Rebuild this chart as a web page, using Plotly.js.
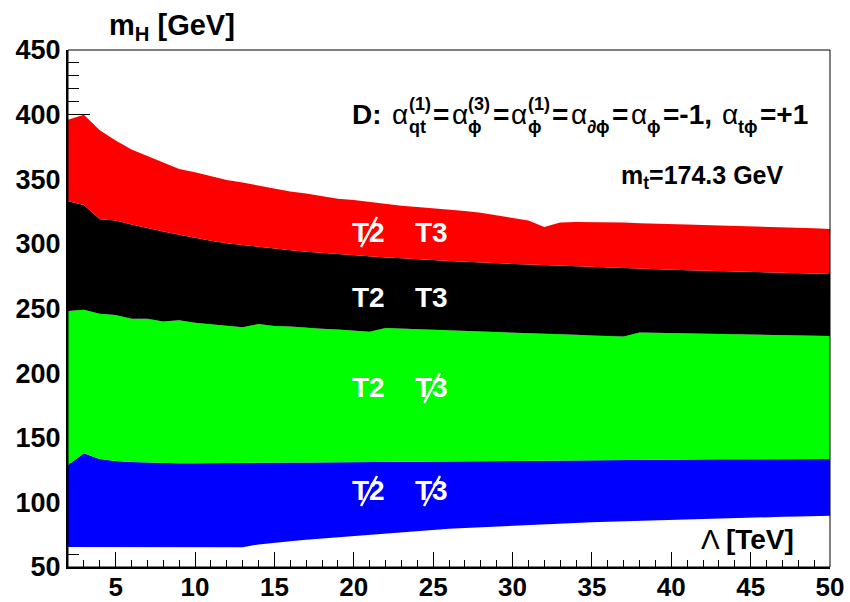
<!DOCTYPE html>
<html>
<head>
<meta charset="utf-8">
<script src="https://cdn.plot.ly/plotly-3.0.1.min.js"></script>
<style>html,body{margin:0;padding:0;background:#fff;}#chart{width:850px;height:602px;}</style>
</head>
<body>
<div id="chart"></div>
<script>
// Lambda [TeV]
const lambdaTeV = [2,3,4,5,6,7,8,9,10,11,12,13,14,15,16,17,18,19,20,21,22,23,24,25,26,27,28,29,30,31,32,33,34,35,36,37,38,39,40,41,42,43,44,45,46,47,48,49,50];
// lower edge of blue band
const blueLow = [65.5,65.5,65.3,65.2,65.2,65.0,65.0,65.0,65.0,65.0,65.0,65.3,67.5,69.0,70.0,71.0,72.0,72.8,73.5,74.8,76.0,77.0,78.0,78.8,79.5,80.2,80.8,81.4,82.0,82.6,83.2,83.8,84.2,84.6,85.0,85.4,85.8,86.1,86.3,86.5,86.8,87.2,87.6,88.0,88.4,88.8,89.1,89.4,89.7];
// upper edge of blue band (lower edge of green)
const blueTop = [129,138,133.5,132,131.3,130.8,130.5,130.3,130.3,130.3,130.4,130.5,130.6,130.7,130.8,130.9,131,131.1,131.3,131.4,131.5,131.7,131.8,132,132.1,132.2,132.3,132.4,132.5,132.6,132.6,132.7,132.8,132.8,132.9,133,133,133.1,133.1,133.2,133.2,133.3,133.3,133.4,133.4,133.5,133.5,133.6,133.6];
// upper edge of green band
const greenTop = [248,249,246,245,242,242,240,241,239,238,237,235.5,238,236.5,236,235,234.3,233.7,233,232,235,234.5,234,233.5,233,232.7,232.3,232,231.5,231,230.5,230,229.6,229.2,228.8,228.3,231.5,231.3,231,230.7,230.5,230.2,230,229.7,229.4,229.2,229,228.8,228.7];
// upper edge of black band
const blackTop = [333,330,319,318,315,312,309.5,307,304.5,302.5,300.5,299,297.5,296,295,294,293,292,291,290,289.5,288.8,288,287.3,286.7,286.2,285.5,285,284.5,284,283.5,283,282.5,282,281.5,281,280.7,280.3,280,279.6,279.3,279,278.6,278.3,278,277.6,277.3,277,276.7];
// upper edge of red band
const redTop = [396,400,388,380,373,368,363,358,355.5,352.5,349.5,347.5,345,343,340.5,339,337,335,334,332.5,330.5,329.5,328.5,327.5,327,325.5,324,322,320,318,313,316.5,317,317,317,316.5,316,315.5,315.3,315,314.6,314.3,314,313.5,313,312.7,312.3,312,311.5];

const xTicks = [5,10,15,20,25,30,35,40,45,50];
const yTicks = [50,100,150,200,250,300,350,400,450];

// formula text pieces: main text, superscript, subscript
const formulaTokens = [
  {t:'D:', b:true, gap:0.3},
  {t:'α', sup:'(1)', sub:'qt'},
  {t:'=', b:true},
  {t:'α', sup:'(3)', sub:'ϕ'},
  {t:'=', b:true},
  {t:'α', sup:'(1)', sub:'ϕ'},
  {t:'=', b:true},
  {t:'α', sub:'∂ϕ'},
  {t:'=', b:true},
  {t:'α', sub:'ϕ'},
  {t:'=-1,', b:true, gap:0.25},
  {t:'α', sub:'tϕ'},
  {t:'=+1', b:true}
];

const FONT = 'Liberation Sans, Arial, Helvetica, sans-serif';

function band(y, fill, color) {
  return {x: lambdaTeV, y: y, type: 'scatter', mode: 'lines',
          line: {width: 0, color: color}, fill: fill, fillcolor: color,
          hoverinfo: 'skip', showlegend: false};
}

const traces = [
  band(blueLow, 'none', 'rgba(0,0,0,0)'),
  band(blueTop, 'tonexty', '#0000ff'),
  band(greenTop, 'tonexty', '#00ff00'),
  band(blackTop, 'tonexty', '#000000'),
  band(redTop, 'tonexty', '#ff0000')
];

// pixel -> paper helpers
const L = 68, R = 830, T = 50, B = 567;
const px = v => (v - L) / (R - L);
const py = v => (B - v) / (B - T);

const ctx = document.createElement('canvas').getContext('2d');
function tw(text, size, bold) {
  ctx.font = (bold ? 'bold ' : '') + size + 'px "Liberation Sans"';
  return ctx.measureText(text).width;
}

function richLine(tokens, left, right, cy, M) {
  const S = Math.round(M * 0.64);
  const parts = tokens.map(k => {
    const wm = tw(k.t, M, !!k.b);
    const ws = Math.max(k.sup ? tw(k.sup, S, true) : 0, k.sub ? tw(k.sub, S, true) : 0);
    return {k, wm, ws, g: (k.gap || 0) * M};
  });
  const natural = parts.reduce((a, p) => a + p.wm + p.ws + p.g, 0);
  const extra = Math.max(0, (right - left - natural) / (parts.length - 1));
  const out = [];
  let x = left;
  const base = {xref:'paper', yref:'paper', showarrow:false, xanchor:'left', yanchor:'middle',
                borderpad:0, borderwidth:0};
  parts.forEach((p, i) => {
    out.push(Object.assign({}, base, {x: px(x), y: py(cy), text: p.k.b ? '<b>'+p.k.t+'</b>' : p.k.t,
      font:{family:FONT, size:M, color:'#000'}}));
    if (p.k.sup) out.push(Object.assign({}, base, {x: px(x + p.wm), y: py(cy - 0.36*M), text:'<b>'+p.k.sup+'</b>',
      font:{family:FONT, size:S, color:'#000'}}));
    if (p.k.sub) out.push(Object.assign({}, base, {x: px(x + p.wm), y: py(cy + 0.45*M), text:'<b>'+p.k.sub+'</b>',
      font:{family:FONT, size:S, color:'#000'}}));
    x += p.wm + p.ws + p.g + (i < parts.length - 1 ? extra : 0);
  });
  return out;
}

function lbl(text, cx, cy) {
  return {xref:'paper', yref:'paper', x: px(cx), y: py(cy), text: '<b>'+text+'</b>',
          showarrow:false, xanchor:'center', yanchor:'middle', borderpad:0,
          font:{family:FONT, size:28, color:'#ffffff'}};
}
function slash(cx, cy) {
  return {type:'line', xref:'paper', yref:'paper',
          x0: px(cx-8), y0: py(cy+15), x1: px(cx+8), y1: py(cy-15),
          line:{color:'#ffffff', width:2.5}, layer:'above'};
}

const annotations = [
  {xref:'paper', yref:'paper', x: px(108), y: py(27), xanchor:'left', yanchor:'middle', borderpad:0,
   text:'<b>m<sub>H</sub> [GeV]</b>', showarrow:false, font:{family:FONT, size:29, color:'#000'}},
  {xref:'paper', yref:'paper', x: px(795), y: py(539), xanchor:'right', yanchor:'middle', borderpad:0,
   text:'Λ <b>[TeV]</b>', showarrow:false, font:{family:FONT, size:28, color:'#000'}},
  {xref:'paper', yref:'paper', x: px(785), y: py(177), xanchor:'right', yanchor:'middle', borderpad:0,
   text:'<b>m<sub>t</sub>=174.3 GeV</b>', showarrow:false, font:{family:FONT, size:25, color:'#000'}},
  lbl('T2', 368, 232), lbl('T3', 431, 232),
  lbl('T2', 368, 297), lbl('T3', 431, 297),
  lbl('T2', 368, 388), lbl('T3', 431, 388),
  lbl('T2', 368, 490), lbl('T3', 431, 490)
].concat(richLine(formulaTokens, 352, 808, 114, 28));

const shapes = [
  {type:'rect', xref:'paper', yref:'paper', x0:0, y0:0, x1:1, y1:1,
   line:{color:'#000', width:1}, layer:'above'},
  slash(369, 232),
  slash(432, 388),
  slash(369, 491),
  slash(432, 491)
];

const layout = {
  width: 850, height: 602,
  margin: {l: L, r: 850 - R, t: T, b: 602 - B, pad: 0},
  paper_bgcolor: '#ffffff', plot_bgcolor: '#ffffff',
  showlegend: false,
  xaxis: {range:[2,50], tickmode:'array', tickvals:xTicks, ticktext:xTicks.map(String),
          ticks:'inside', ticklen:15, tickwidth:1, tickcolor:'#000',
          minor:{ticks:'inside', ticklen:7, dtick:1, tickcolor:'#000', tickwidth:1, showgrid:false},
          showgrid:false, zeroline:false, showline:true, linecolor:'#000', linewidth:2,
          layer:'below traces', ticklabelstandoff:-4,
          tickfont:{family:FONT, size:26, color:'#000', weight:'bold'}},
  yaxis: {range:[50,450], tickmode:'array', tickvals:yTicks, ticktext:yTicks.map(String),
          ticks:'inside', ticklen:22, tickwidth:1, tickcolor:'#000',
          minor:{ticks:'inside', ticklen:11, dtick:10, tick0:0, tickcolor:'#000', tickwidth:1, showgrid:false},
          showgrid:false, zeroline:false, showline:true, linecolor:'#000', linewidth:2,
          layer:'below traces',
          tickfont:{family:FONT, size:27, color:'#000', weight:'bold'}},
  annotations: annotations,
  shapes: shapes
};

Plotly.newPlot('chart', traces, layout, {displayModeBar:false, staticPlot:true});
</script>
</body>
</html>
